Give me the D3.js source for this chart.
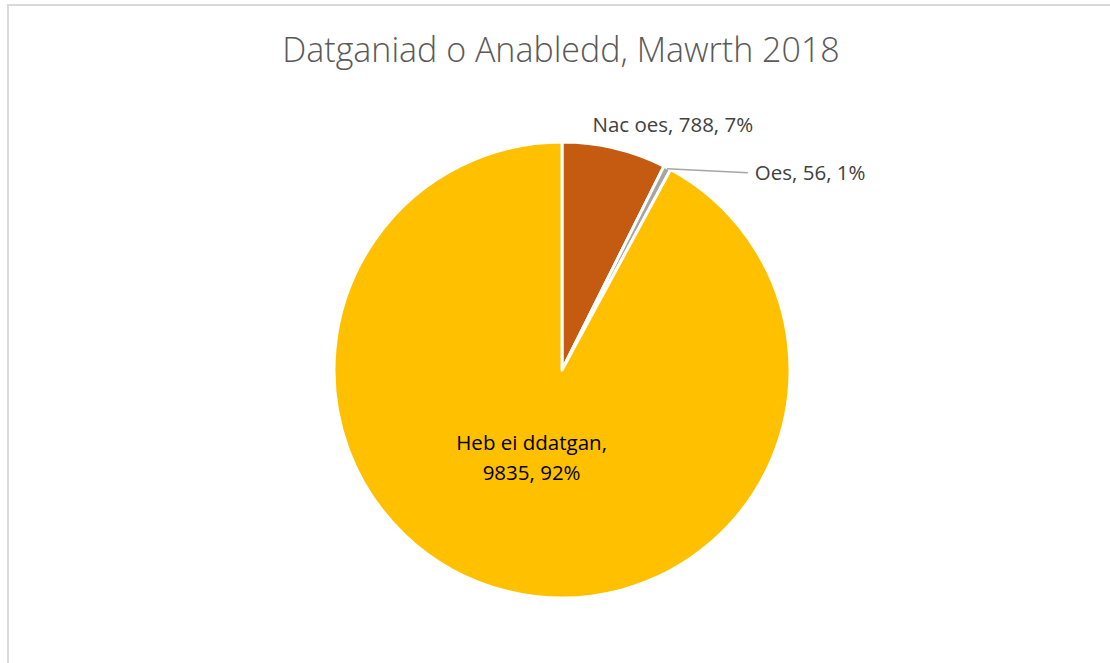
<!DOCTYPE html>
<html>
<head>
<meta charset="utf-8">
<script src="https://cdn.jsdelivr.net/npm/d3@7"></script>
<style>
  body { margin: 0; background: #fff; }
  svg { display: block; }
</style>
</head>
<body>
<svg id="chart" width="1110" height="663"></svg>
<script>
const categories = ['Nac oes', 'Oes', 'Heb ei ddatgan'];
const values = [788, 56, 9835];
const percents = ['7%', '1%', '92%'];
const colors = ['#C55A11', '#A5A5A5', '#FFC000'];

const svg = d3.select('#chart');
const width = 1110, height = 663;
const cx = 562, cy = 370, radius = 228;

// chart frame
svg.append('rect')
    .attr('x', 8).attr('y', 5)
    .attr('width', width + 20).attr('height', height + 20)
    .attr('fill', 'none')
    .attr('stroke', '#D9D9D9')
    .attr('stroke-width', 2);

svg.append('text')
    .attr('x', cx - 1)
    .attr('y', 62)
    .attr('text-anchor', 'middle')
    .style('font-family', 'Open Sans, sans-serif')
    .style('font-size', '34px')
    .style('font-weight', 300)
    .style('fill', '#595959')
    .text('Datganiad o Anabledd, Mawrth 2018');

const data = categories.map((c, i) => ({ name: c, value: values[i], pct: percents[i], color: colors[i] }));

const pie = d3.pie().value(d => d.value).sort(null);
const arcs = pie(data);

const arc = d3.arc().innerRadius(0).outerRadius(radius);

const g = svg.append('g').attr('transform', `translate(${cx},${cy})`);

g.selectAll('path')
    .data(arcs)
    .join('path')
    .attr('d', arc)
    .attr('fill', d => d.data.color)
    .attr('stroke', '#fff')
    .attr('stroke-width', 3)
    .attr('stroke-linejoin', 'round');

const labelFont = 'Open Sans, sans-serif';
const labelSize = '20.5px';
const mid = d => (d.startAngle + d.endAngle) / 2;
const pt = (a, r) => [r * Math.sin(a), -r * Math.cos(a)];

// Nac oes label (outside, above)
const a0 = arcs[0];
const p0 = pt(mid(a0), radius + 28);
g.append('text')
    .attr('x', p0[0] + 52)
    .attr('y', p0[1] + 11)
    .attr('text-anchor', 'middle')
    .style('font-family', labelFont)
    .style('font-size', labelSize)
    .style('fill', '#404040')
    .text(`${a0.data.name}, ${a0.data.value}, ${a0.data.pct}`);

// Oes label with leader line
const a1 = arcs[1];
const p1 = pt(mid(a1), radius - 1);
const lineEnd = [p1[0] + 81, p1[1] + 4];
g.append('polyline')
    .attr('points', [p1, lineEnd].map(p => p.join(',')).join(' '))
    .attr('fill', 'none')
    .attr('stroke', '#A6A6A6')
    .attr('stroke-width', 1.5);
g.append('text')
    .attr('x', lineEnd[0] + 7)
    .attr('y', lineEnd[1] + 7)
    .attr('text-anchor', 'start')
    .style('font-family', labelFont)
    .style('font-size', labelSize)
    .style('fill', '#404040')
    .text(`${a1.data.name}, ${a1.data.value}, ${a1.data.pct}`);

// Heb ei ddatgan label (inside)
const a2 = arcs[2];
const p2 = pt(mid(a2), radius * 0.4);
const lx = p2[0] - 8;
const t2 = g.append('text')
    .attr('x', lx)
    .attr('y', p2[1] - 8)
    .attr('text-anchor', 'middle')
    .style('font-family', labelFont)
    .style('font-size', labelSize)
    .style('fill', '#000');
t2.append('tspan').attr('x', lx).text(`${a2.data.name},`);
t2.append('tspan').attr('x', lx).attr('dy', 30).text(`${a2.data.value}, ${a2.data.pct}`);
</script>
</body>
</html>
